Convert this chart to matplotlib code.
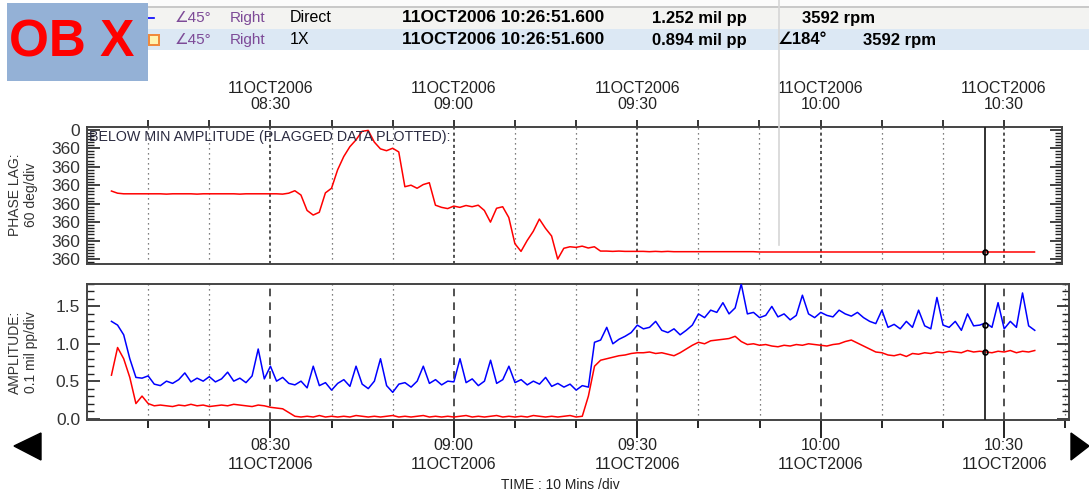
import numpy as np
import matplotlib
matplotlib.use('Agg')
import matplotlib.pyplot as plt
from matplotlib.patches import Rectangle, Polygon
from matplotlib.lines import Line2D
from matplotlib.ticker import MultipleLocator, FixedLocator

plt.rcParams['font.family'] = ['Liberation Sans', 'DejaVu Sans']

# time axis: minutes after 08:00 on 11OCT2006, one sample per minute
start_min = 4
major_times = [30, 60, 90, 120, 150]
major_labels = ['08:30', '09:00', '09:30', '10:00', '10:30']
date_label = '11OCT2006'

# cursor readout
cursor_min = 146.86
cursor_direct = 1.252
cursor_1x = 0.894
cursor_phase = 396

# phase lag (deg, drawn downward from 0)
phase_1x = [199, 206, 208, 208, 208, 208,
            208, 208, 208, 209, 208, 208, 208, 208, 209, 208,
            208, 208, 208, 208, 208, 209, 208, 208, 208, 208,
            208, 208, 209, 206, 198, 212, 262, 277, 268, 205,
            190, 130, 87, 55, 33, 5, 2, 40, 62, 68,
            60, 72, 185, 180, 190, 178, 172, 245, 252, 256,
            248, 252, 246, 250, 245, 262, 300, 255, 250, 285,
            370, 395, 360, 330, 290, 320, 345, 420, 385, 380,
            382, 378, 384, 380, 394, 394, 395, 394, 395, 395,
            395, 395, 396, 395, 396, 395, 396, 396, 396, 396,
            396, 396, 396, 396, 396, 396, 396, 396, 396, 396,
            397, 397, 397, 397, 397, 397, 397, 397, 397, 397,
            397, 397, 397, 397, 397, 397, 397, 397, 397, 397,
            397, 397, 397, 397, 397, 397, 397, 397, 397, 397,
            397, 397, 397, 397, 397, 397, 397, 397, 397, 397,
            397, 397, 397, 397, 397, 397]

# amplitude, mil pp
amp_direct = [1.30, 1.25, 1.12, 0.80, 0.55, 0.54,
              0.57, 0.46, 0.44, 0.50, 0.47, 0.52, 0.61, 0.49, 0.54, 0.50,
              0.56, 0.49, 0.53, 0.62, 0.50, 0.54, 0.48, 0.57, 0.93, 0.53,
              0.70, 0.50, 0.55, 0.47, 0.45, 0.50, 0.41, 0.70, 0.44, 0.48,
              0.38, 0.47, 0.52, 0.43, 0.70, 0.46, 0.40, 0.50, 0.80, 0.44,
              0.35, 0.46, 0.48, 0.42, 0.50, 0.70, 0.47, 0.52, 0.45, 0.50,
              0.49, 0.80, 0.48, 0.53, 0.44, 0.50, 0.78, 0.47, 0.52, 0.70,
              0.48, 0.52, 0.45, 0.50, 0.46, 0.55, 0.43, 0.47, 0.42, 0.46,
              0.38, 0.44, 0.42, 1.02, 1.05, 1.22, 1.00, 1.06, 1.10, 1.15,
              1.25, 1.20, 1.22, 1.30, 1.18, 1.15, 1.20, 1.12, 1.18, 1.25,
              1.40, 1.35, 1.45, 1.42, 1.55, 1.40, 1.48, 1.80, 1.40, 1.42,
              1.35, 1.38, 1.50, 1.36, 1.40, 1.32, 1.38, 1.65, 1.40, 1.35,
              1.42, 1.38, 1.36, 1.45, 1.40, 1.37, 1.42, 1.35, 1.30, 1.27,
              1.45, 1.22, 1.26, 1.20, 1.30, 1.22, 1.45, 1.24, 1.20, 1.62,
              1.25, 1.22, 1.30, 1.18, 1.40, 1.24, 1.25, 1.28, 1.22, 1.55,
              1.20, 1.30, 1.22, 1.68, 1.24, 1.18]
amp_1x = [0.58, 0.95, 0.80, 0.55, 0.20, 0.30,
          0.20, 0.17, 0.18, 0.17, 0.16, 0.18, 0.17, 0.19, 0.17, 0.18,
          0.16, 0.17, 0.18, 0.17, 0.19, 0.18, 0.17, 0.16, 0.18, 0.17,
          0.15, 0.14, 0.13, 0.08, 0.03, 0.02, 0.03, 0.02, 0.04, 0.02,
          0.03, 0.02, 0.03, 0.02, 0.04, 0.03, 0.02, 0.03, 0.02, 0.03,
          0.04, 0.02, 0.03, 0.02, 0.03, 0.04, 0.02, 0.03, 0.02, 0.03,
          0.02, 0.03, 0.04, 0.02, 0.03, 0.02, 0.03, 0.04, 0.02, 0.03,
          0.02, 0.03, 0.02, 0.04, 0.03, 0.02, 0.03, 0.02, 0.03, 0.04,
          0.02, 0.03, 0.30, 0.70, 0.78, 0.80, 0.82, 0.84, 0.85, 0.87,
          0.88, 0.88, 0.89, 0.87, 0.88, 0.86, 0.84, 0.88, 0.93, 0.98,
          1.02, 1.00, 1.04, 1.05, 1.06, 1.07, 1.10, 1.03, 0.99, 1.00,
          0.98, 0.99, 0.97, 0.96, 0.98, 0.97, 0.99, 0.98, 1.00, 0.99,
          0.98, 0.97, 0.99, 1.00, 1.03, 1.05, 1.01, 0.97, 0.93, 0.89,
          0.88, 0.85, 0.84, 0.86, 0.83, 0.87, 0.86, 0.88, 0.87, 0.89,
          0.88, 0.90, 0.89, 0.88, 0.91, 0.89, 0.90, 0.89, 0.88, 0.90,
          0.89, 0.91, 0.88, 0.90, 0.89, 0.91]

t = np.arange(start_min, start_min + len(phase_1x))

W, H = 1089, 498
fig = plt.figure(figsize=(W / 100, H / 100), dpi=100)


def fx(x):
    return x / W


def fy(y):
    return 1 - y / H


def box(x0, y0, x1, y1, color, z=0):
    fig.add_artist(Rectangle((fx(x0), fy(y1)), fx(x1 - x0), (y1 - y0) / H,
                             transform=fig.transFigure, color=color, lw=0, zorder=z))


# header rows
box(148, 0, 1089, 7, '#fbfbfb')
box(148, 6, 1089, 8, '#c9c9c9')
box(148, 8, 1089, 29, '#f3f3f1')
box(148, 29, 1089, 50, '#dce8f4')
fig.add_artist(Line2D([fx(779), fx(779)], [fy(0), fy(245)], transform=fig.transFigure,
                      color='#d6d6d6', lw=1.2, zorder=1))
purple = '#7d4a97'
rows = [(18, 'Direct', '1.252 mil pp', None, '3592 rpm', 802),
        (40, '1X', '0.894 mil pp', '\u2220184\u00b0', '3592 rpm', 863)]
for y, kind, amp, ph, rpm, rx in rows:
    fig.text(fx(175), fy(y), '\u222045\u00b0', color=purple, fontsize=11, va='center', zorder=3)
    fig.text(fx(230), fy(y), 'Right', color=purple, fontsize=11, va='center', zorder=3)
    fig.text(fx(290), fy(y), kind, color='black', fontsize=11.5, va='center', zorder=3)
    fig.text(fx(402), fy(y), '11OCT2006 10:26:51.600', color='black', fontsize=12.5,
             fontweight='bold', va='center', zorder=3)
    fig.text(fx(652), fy(y), amp, color='black', fontsize=12, fontweight='bold', va='center', zorder=3)
    if ph:
        fig.text(fx(778), fy(y), ph, color='black', fontsize=12, fontweight='bold', va='center', zorder=3)
    fig.text(fx(rx), fy(y), rpm, color='black', fontsize=12, fontweight='bold', va='center', zorder=3)
fig.add_artist(Line2D([fx(148), fx(154)], [fy(18), fy(18)], transform=fig.transFigure,
                      color='blue', lw=1.2, zorder=3))
box(148, 34, 160, 46, '#f08a3c', z=2)
box(150, 36, 158, 44, '#fff3b0', z=2)

# OB X label box
box(7, 3, 148, 81, '#94b1d6', z=4)
fig.text(fx(72), fy(43), 'OB X', color='#ff0000', fontsize=37, fontweight='bold',
         ha='center', va='center', zorder=5)

# arrows
fig.add_artist(Polygon([(fx(14), fy(446)), (fx(41), fy(433)), (fx(41), fy(460))],
                       closed=True, transform=fig.transFigure, color='black', zorder=3))
fig.add_artist(Polygon([(fx(1071), fy(433)), (fx(1071), fy(460)), (fx(1089), fy(446))],
                       closed=True, transform=fig.transFigure, color='black', zorder=3))

# axes
ax1 = fig.add_axes([fx(87), fy(264), fx(1062 - 87), (264 - 127) / H])
ax2 = fig.add_axes([fx(87), fy(420), fx(1069 - 87), (420 - 284) / H])

minor_times = [m for m in range(10, 161, 10) if m not in major_times]

for ax, xmax in ((ax1, 159.5), (ax2, 160.6)):
    ax.set_xlim(0, xmax)
    for m in minor_times:
        ax.axvline(m, color='#555555', lw=0.9, ls=(0, (1, 3)), zorder=1)
    for m in major_times:
        ax.axvline(m, color='#222222', lw=1.1, ls=(0, (5, 4)) if ax is ax2 else (0, (2, 2)), zorder=1)
    ax.axvline(cursor_min, color='#222222', lw=1.3, zorder=4)
    for s in ax.spines.values():
        s.set_color('#444444')
        s.set_linewidth(1.4)
    ax.xaxis.set_major_locator(FixedLocator(major_times))
    ax.xaxis.set_minor_locator(FixedLocator(minor_times))
    ax.tick_params(axis='y', which='both', direction='in', left=True, right=True,
                   labelsize=12.5, colors='#222222', labelcolor='#333333', pad=5)
    ax.tick_params(axis='y', which='major', length=9, width=1.2)
    ax.tick_params(axis='y', which='minor', length=5, width=1.0)

# phase plot
ax1.plot(t, phase_1x, color='#ff0000', lw=1.1, zorder=3)
ax1.plot([cursor_min], [cursor_phase], marker='o', ms=3.5, mfc='none', mec='black', mew=1.2, zorder=5)
ax1.set_ylim(436, -9)
ax1.yaxis.set_major_locator(FixedLocator(list(range(0, 421, 60))))
ax1.yaxis.set_minor_locator(MultipleLocator(10))
ax1.set_yticklabels(['0'] + ['360'] * 7)
ax1.xaxis.tick_top()
ax1.tick_params(axis='x', which='both', direction='out', top=True, bottom=False,
                length=5, width=1.1, labelsize=11.5, labelcolor='#222222', pad=6)
ax1.set_xticklabels([date_label + '\n' + lab for lab in major_labels], linespacing=1.05)
ax1.text(0.3, 1, 'BELOW MIN AMPLITUDE (PLAGGED DATA PLOTTED):', fontsize=10.3,
         color='#2a2a40', va='top', zorder=6)
fig.text(fx(23), fy(195), 'PHASE LAG:\n60 deg/div', fontsize=10, color='#333333',
         rotation=90, ha='center', va='center', linespacing=1.1, multialignment='center')

# amplitude plot
ax2.plot(t, amp_direct, color='#0000ff', lw=1.1, zorder=3)
ax2.plot(t, amp_1x, color='#ff0000', lw=1.1, zorder=3)
ax2.plot([cursor_min, cursor_min], [cursor_direct, cursor_1x], ls='none', marker='o', ms=3.5,
         mfc='none', mec='black', mew=1.2, zorder=5)
ax2.set_ylim(-0.02, 1.80)
ax2.yaxis.set_major_locator(MultipleLocator(0.5))
ax2.yaxis.set_minor_locator(MultipleLocator(0.1))
ax2.yaxis.set_major_formatter(lambda v, p: '%.1f' % v)
ax2.tick_params(axis='x', which='major', direction='out', length=13, width=1.2,
                labelsize=11.5, labelcolor='#222222', pad=0)
ax2.tick_params(axis='x', which='minor', direction='out', length=6, width=1.2)
ax2.set_xticklabels([lab + '\n' + date_label for lab in major_labels], linespacing=1.3)
fig.text(fx(23), fy(352), 'AMPLITUDE:\n0.1 mil pp/div', fontsize=10, color='#333333',
         rotation=90, ha='center', va='center', linespacing=1.1, multialignment='center')
fig.text(fx(560), fy(485), 'TIME : 10 Mins /div', fontsize=10, color='#222222',
         ha='center', va='center')

fig.savefig('out.png', dpi=100)
